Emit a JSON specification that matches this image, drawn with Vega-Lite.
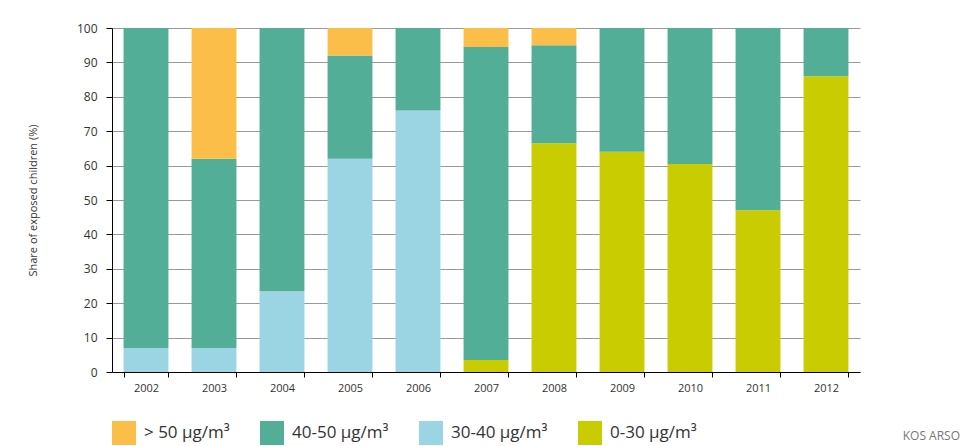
{
  "$schema": "https://vega.github.io/schema/vega-lite/v6.json",
  "autosize": "none",
  "width": 748,
  "height": 344,
  "padding": {"left": 112, "top": 28, "right": 102, "bottom": 74},
  "background": "white",
  "config": {"view": {"stroke": null}, "font": "Open Sans"},
  "title": {"text": "KOS ARSO", "orient": "bottom", "anchor": "end", "frame": "group", "fontSize": 12, "fontWeight": "normal", "color": "#777", "offset": 0, "dy": -14, "dx": 100, "font": "Open Sans"},
  "data": {"values": [
    {"year": "2002", "cat": "0-30 μg/m³", "k": 1, "v": 0},
    {"year": "2002", "cat": "30-40 μg/m³", "k": 2, "v": 7},
    {"year": "2002", "cat": "40-50 μg/m³", "k": 3, "v": 93},
    {"year": "2002", "cat": "> 50 μg/m³", "k": 4, "v": 0},
    {"year": "2003", "cat": "0-30 μg/m³", "k": 1, "v": 0},
    {"year": "2003", "cat": "30-40 μg/m³", "k": 2, "v": 7},
    {"year": "2003", "cat": "40-50 μg/m³", "k": 3, "v": 55},
    {"year": "2003", "cat": "> 50 μg/m³", "k": 4, "v": 38},
    {"year": "2004", "cat": "0-30 μg/m³", "k": 1, "v": 0},
    {"year": "2004", "cat": "30-40 μg/m³", "k": 2, "v": 23.5},
    {"year": "2004", "cat": "40-50 μg/m³", "k": 3, "v": 76.5},
    {"year": "2004", "cat": "> 50 μg/m³", "k": 4, "v": 0},
    {"year": "2005", "cat": "0-30 μg/m³", "k": 1, "v": 0},
    {"year": "2005", "cat": "30-40 μg/m³", "k": 2, "v": 62},
    {"year": "2005", "cat": "40-50 μg/m³", "k": 3, "v": 30},
    {"year": "2005", "cat": "> 50 μg/m³", "k": 4, "v": 8},
    {"year": "2006", "cat": "0-30 μg/m³", "k": 1, "v": 0},
    {"year": "2006", "cat": "30-40 μg/m³", "k": 2, "v": 76},
    {"year": "2006", "cat": "40-50 μg/m³", "k": 3, "v": 24},
    {"year": "2006", "cat": "> 50 μg/m³", "k": 4, "v": 0},
    {"year": "2007", "cat": "0-30 μg/m³", "k": 1, "v": 3.5},
    {"year": "2007", "cat": "30-40 μg/m³", "k": 2, "v": 0},
    {"year": "2007", "cat": "40-50 μg/m³", "k": 3, "v": 91},
    {"year": "2007", "cat": "> 50 μg/m³", "k": 4, "v": 5.5},
    {"year": "2008", "cat": "0-30 μg/m³", "k": 1, "v": 66.5},
    {"year": "2008", "cat": "30-40 μg/m³", "k": 2, "v": 0},
    {"year": "2008", "cat": "40-50 μg/m³", "k": 3, "v": 28.5},
    {"year": "2008", "cat": "> 50 μg/m³", "k": 4, "v": 5},
    {"year": "2009", "cat": "0-30 μg/m³", "k": 1, "v": 64},
    {"year": "2009", "cat": "30-40 μg/m³", "k": 2, "v": 0},
    {"year": "2009", "cat": "40-50 μg/m³", "k": 3, "v": 36},
    {"year": "2009", "cat": "> 50 μg/m³", "k": 4, "v": 0},
    {"year": "2010", "cat": "0-30 μg/m³", "k": 1, "v": 60.5},
    {"year": "2010", "cat": "30-40 μg/m³", "k": 2, "v": 0},
    {"year": "2010", "cat": "40-50 μg/m³", "k": 3, "v": 39.5},
    {"year": "2010", "cat": "> 50 μg/m³", "k": 4, "v": 0},
    {"year": "2011", "cat": "0-30 μg/m³", "k": 1, "v": 47},
    {"year": "2011", "cat": "30-40 μg/m³", "k": 2, "v": 0},
    {"year": "2011", "cat": "40-50 μg/m³", "k": 3, "v": 53},
    {"year": "2011", "cat": "> 50 μg/m³", "k": 4, "v": 0},
    {"year": "2012", "cat": "0-30 μg/m³", "k": 1, "v": 86},
    {"year": "2012", "cat": "30-40 μg/m³", "k": 2, "v": 0},
    {"year": "2012", "cat": "40-50 μg/m³", "k": 3, "v": 14},
    {"year": "2012", "cat": "> 50 μg/m³", "k": 4, "v": 0}
  ]},
  "mark": {"type": "bar"},
  "encoding": {
    "x": {"field": "year", "type": "ordinal",
      "scale": {"paddingInner": 0.34, "paddingOuter": 0.17},
      "axis": {"title": null, "labelAngle": 0, "tickBand": "extent", "domainColor": "#000", "tickColor": "#000", "tickSize": 5, "labelFontSize": 11, "labelColor": "#333", "labelPadding": 5, "grid": false}},
    "y": {"field": "v", "type": "quantitative", "stack": "zero",
      "scale": {"domain": [0, 100], "nice": false},
      "axis": {"title": "Share of exposed children (%)", "titleFontSize": 11, "titleFontWeight": "normal", "titleColor": "#333", "titlePadding": 38, "values": [0,10,20,30,40,50,60,70,80,90,100], "domainColor": "#000", "tickColor": "#000", "tickSize": 6, "labelFontSize": 12, "labelColor": "#333", "labelPadding": 9, "grid": true, "gridColor": "#999", "gridWidth": 1}},
    "color": {"field": "cat", "type": "nominal",
      "scale": {"domain": ["> 50 μg/m³", "40-50 μg/m³", "30-40 μg/m³", "0-30 μg/m³"], "range": ["#FBBF49", "#52AE97", "#9BD4E2", "#C9CD00"]},
      "legend": {"title": null, "orient": "none", "legendX": 0, "legendY": 393, "direction": "horizontal", "columns": 4, "symbolType": "square", "symbolSize": 576, "symbolStrokeWidth": 0, "symbolOpacity": 1, "labelFontSize": 17, "labelColor": "#333", "labelOffset": 8, "columnPadding": 30, "gridAlign": "each"}},
    "order": {"field": "k", "type": "quantitative"}
  }
}
